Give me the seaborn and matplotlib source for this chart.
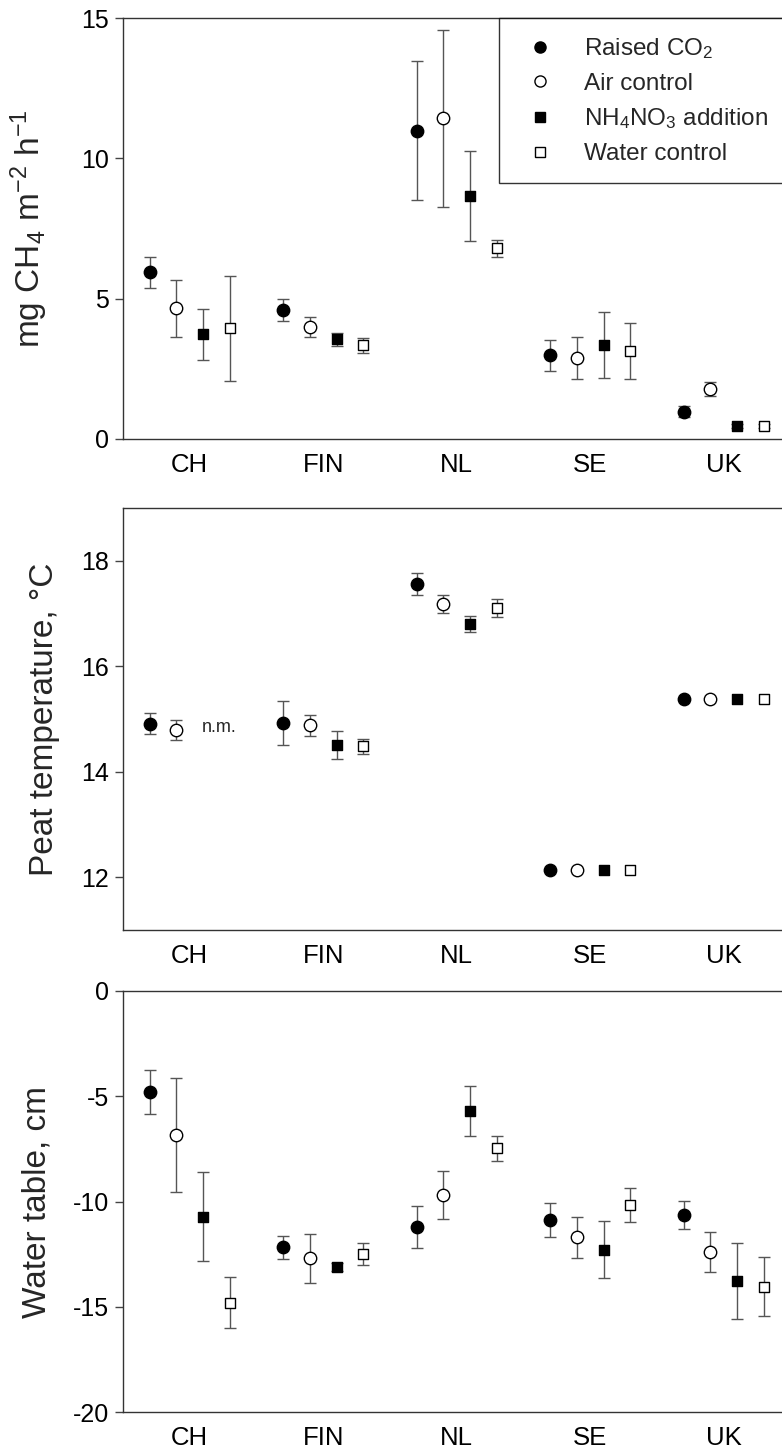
import numpy as np
import pandas as pd
import matplotlib
matplotlib.use('Agg')
import matplotlib.pyplot as plt
import seaborn as sns
from matplotlib.lines import Line2D

# ==============================================================================
# DATA
# ==============================================================================
sites = ['CH', 'FIN', 'NL', 'SE', 'UK']
treatments = ['Raised CO$_2$', 'Air control', 'NH$_4$NO$_3$ addition', 'Water control']

# CH4 flux, mg CH4 m-2 h-1   (rows = site, columns = treatment)
ch4_mean = [[5.94, 4.65, 3.73, 3.94],
            [4.60, 4.00, 3.55, 3.34],
            [10.98, 11.42, 8.65, 6.79],
            [2.99, 2.90, 3.35, 3.13],
            [0.97, 1.77, 0.47, 0.47]]
ch4_se = [[0.55, 1.02, 0.90, 1.88],
          [0.39, 0.35, 0.24, 0.27],
          [2.48, 3.14, 1.60, 0.30],
          [0.55, 0.75, 1.19, 0.99],
          [0.20, 0.25, 0.08, 0.08]]

# peat temperature, deg C (CH fertiliser plots not measured)
temp_mean = [[14.91, 14.80, np.nan, np.nan],
             [14.93, 14.88, 14.51, 14.48],
             [17.56, 17.18, 16.80, 17.10],
             [12.13, 12.13, 12.13, 12.13],
             [15.37, 15.37, 15.37, 15.37]]
temp_se = [[0.20, 0.19, np.nan, np.nan],
           [0.42, 0.20, 0.27, 0.15],
           [0.20, 0.17, 0.15, 0.17],
           [np.nan, np.nan, np.nan, np.nan],
           [np.nan, np.nan, np.nan, np.nan]]

# water table, cm
wt_mean = [[-4.81, -6.83, -10.72, -14.80],
           [-12.18, -12.70, -13.10, -12.51],
           [-11.20, -9.69, -5.68, -7.47],
           [-10.88, -11.70, -12.30, -10.18],
           [-10.64, -12.42, -13.76, -14.06]]
wt_se = [[1.05, 2.70, 2.10, 1.20],
         [0.53, 1.16, 0.20, 0.52],
         [1.00, 1.16, 1.19, 0.60],
         [0.82, 0.98, 1.35, 0.80],
         [0.66, 0.95, 1.80, 1.40]]

# ==============================================================================
# STYLE
# ==============================================================================
sns.set_theme(style='ticks')
plt.rcParams['font.family'] = ['Liberation Sans', 'DejaVu Sans']
plt.rcParams['mathtext.fontset'] = 'custom'
plt.rcParams['mathtext.rm'] = 'Liberation Sans'
plt.rcParams['mathtext.it'] = 'Liberation Sans:italic'
plt.rcParams['mathtext.bf'] = 'Liberation Sans:bold'
plt.rcParams['axes.unicode_minus'] = False

estilos = [dict(marker='o', face='black', s=80),
           dict(marker='o', face='white', s=80),
           dict(marker='s', face='black', s=55),
           dict(marker='s', face='white', s=55)]


def tabela(means, ses):
    linhas = []
    for i, site in enumerate(sites):
        for j, trt in enumerate(treatments):
            linhas.append(dict(site=site, treatment=trt, x=i * 5 + j + 1,
                               mean=means[i][j], se=ses[i][j]))
    return pd.DataFrame(linhas)


def painel(ax, means, ses, ylim, yticks, ylabel, label_x):
    df = tabela(means, ses)
    for trt, st in zip(treatments, estilos):
        d = df[df['treatment'] == trt]
        ax.errorbar(d['x'], d['mean'], yerr=d['se'], fmt='none', ecolor='#555555',
                    elinewidth=1, capsize=4.5, capthick=1, zorder=2)
        sns.scatterplot(data=d, x='x', y='mean', marker=st['marker'], s=st['s'],
                        color=st['face'], edgecolor='black', linewidth=1,
                        ax=ax, zorder=3, legend=False)
    ax.set_xlim(0, 25)
    ax.set_ylim(*ylim)
    ax.set_yticks(yticks)
    ax.set_xticks([i * 5 + 2.5 for i in range(len(sites))])
    ax.set_xticklabels(sites)
    ax.tick_params(axis='x', length=0, pad=10, labelsize=18.5, colors='black')
    ax.tick_params(axis='y', direction='out', length=6, width=1, pad=4,
                   labelsize=18, color='#444444', labelcolor='black')
    ax.set_xlabel('')
    ax.set_ylabel(ylabel, fontsize=24)
    ax.yaxis.set_label_coords(label_x, 0.5)
    ax.spines['right'].set_visible(False)
    for lado in ['left', 'top', 'bottom']:
        ax.spines[lado].set_color('#333333')
        ax.spines[lado].set_linewidth(1)


# ==============================================================================
# FIGURE
# ==============================================================================
fig = plt.figure(figsize=(7.82, 14.51), dpi=100)
W, H = 782, 1451
left, width = 123 / W, 667.5 / W

ax1 = fig.add_axes([left, 1 - 439 / H, width, 421 / H])
ax2 = fig.add_axes([left, 1 - 930 / H, width, 422 / H])
ax3 = fig.add_axes([left, 1 - 1412 / H, width, 421 / H])

painel(ax1, ch4_mean, ch4_se, (0, 15), [0, 5, 10, 15],
       'mg CH$_4$ m$^{-2}$ h$^{-1}$', -0.109)
painel(ax2, temp_mean, temp_se, (11, 19), [12, 14, 16, 18],
       'Peat temperature, °C', -0.094)
painel(ax3, wt_mean, wt_se, (-20, 0), [-20, -15, -10, -5, 0],
       'Water table, cm', -0.106)

ax2.text(3.6, 14.83, 'n.m.', fontsize=13, ha='center', va='center')

handles = [Line2D([], [], linestyle='none', marker=st['marker'],
                  markerfacecolor=st['face'], markeredgecolor='black',
                  markersize=8 if st['marker'] == 'o' else 7, markeredgewidth=1)
           for st in estilos]
leg = ax1.legend(handles, treatments, loc='upper left', bbox_to_anchor=(0.563, 1.0),
                 borderaxespad=0, frameon=True, fancybox=False, fontsize=17.5,
                 handlelength=1.85, handletextpad=0.9, labelspacing=0.48,
                 borderpad=0.75)
leg.get_frame().set_edgecolor('black')
leg.get_frame().set_linewidth(1)

plt.savefig('out.png', dpi=100)
